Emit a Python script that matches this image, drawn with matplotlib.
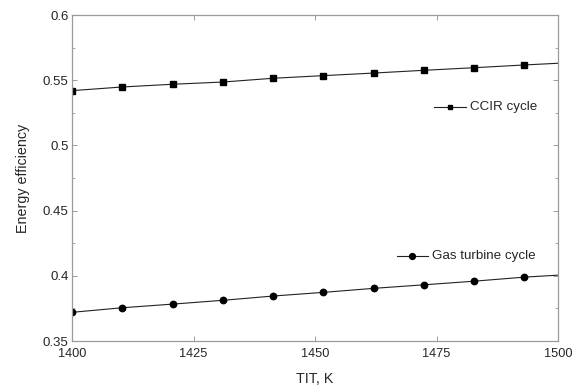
import matplotlib
matplotlib.use("Agg")
import matplotlib.pyplot as plt
from matplotlib.ticker import MultipleLocator

plt.rcParams['font.family'] = ['Liberation Sans', 'DejaVu Sans']

# Turbine inlet temperature (K) at the marked points, plus the line end
tit = [1400, 1410.3, 1420.7, 1431.0, 1441.4, 1451.7, 1462.1, 1472.4, 1482.8, 1493.1, 1500]
ccir_eff = [0.5420, 0.5448, 0.5469, 0.5486, 0.5515, 0.5535, 0.5555, 0.5576, 0.5596, 0.5617, 0.5630]
gt_eff = [0.3720, 0.3755, 0.3783, 0.3812, 0.3845, 0.3873, 0.3904, 0.3931, 0.3959, 0.3990, 0.4005]

x_ticks = [1400, 1425, 1450, 1475, 1500]
y_ticks = [0.35, 0.4, 0.45, 0.5, 0.55, 0.6]
y_tick_labels = ['0.35', '0.4', '0.45', '0.5', '0.55', '0.6']

line_col = '#222222'
axis_col = '#9a9a9a'
text_col = '#262626'

fig = plt.figure(figsize=(5.77, 3.90), dpi=100)
ax = fig.add_axes([0.1248, 0.1256, 0.8423, 0.8359])

marks = list(range(len(tit) - 1))
ax.plot(tit, ccir_eff, color=line_col, lw=0.8, marker='s', ms=3.8,
        markevery=marks, mfc='black', mec='black')
ax.plot(tit, gt_eff, color=line_col, lw=0.8, marker='o', ms=4.6,
        markevery=marks, mfc='black', mec='black')

ax.set_xlim(1400, 1500)
ax.set_ylim(0.35, 0.6)
ax.set_xticks(x_ticks)
ax.set_xticklabels([str(v) for v in x_ticks])
ax.set_yticks(y_ticks)
ax.set_yticklabels(y_tick_labels)
ax.yaxis.set_minor_locator(MultipleLocator(0.025))

for s in ax.spines.values():
    s.set_color(axis_col)
    s.set_linewidth(0.9)

ax.tick_params(axis='y', which='major', direction='in', left=True, right=True,
               length=3.5, width=0.7, color=axis_col, labelsize=9.5, labelcolor=text_col, pad=2.5)
ax.tick_params(axis='y', which='minor', direction='in', left=True, right=True,
               length=2.5, width=0.6, color=axis_col)
ax.tick_params(axis='x', which='major', direction='in', top=True, bottom=True,
               length=3.5, width=0.7, color=axis_col, labelsize=9.2, labelcolor=text_col, pad=5)

ax.set_xlabel('TIT, K', fontsize=10.3, color=text_col, labelpad=9)
ax.set_ylabel('Energy efficiency', fontsize=10.3, color=text_col, labelpad=9)

# Inline legend entries drawn in data coordinates
def legend_entry(x0, x1, y, marker, ms, label):
    ax.plot([x0, x1], [y, y], color=line_col, lw=0.8)
    ax.plot([(x0 + x1) / 2], [y], marker=marker, ms=ms, color='black', ls='none')
    ax.text(x1 + 0.8, y, label, fontsize=9.6, color=text_col, va='center', ha='left')

legend_entry(1474.5, 1481.0, 0.5294, 's', 3.4, 'CCIR cycle')
legend_entry(1466.8, 1473.3, 0.4150, 'o', 4.2, 'Gas turbine cycle')

fig.savefig('out.png', dpi=100)
